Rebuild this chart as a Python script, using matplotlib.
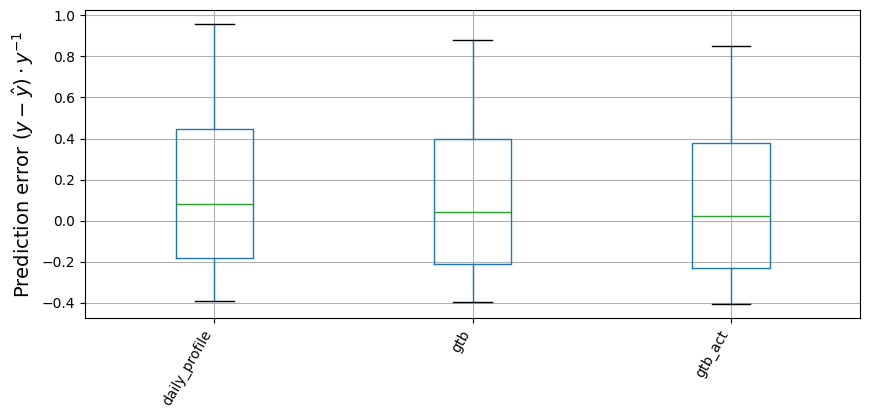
import matplotlib
matplotlib.use("Agg")
import matplotlib.pyplot as plt

models = ["daily_profile", "gtb", "gtb_act"]
whislo = [-0.39, -0.395, -0.405]
q1 = [-0.18, -0.21, -0.229]
med = [0.083, 0.044, 0.024]
q3 = [0.444, 0.40, 0.38]
whishi = [0.958, 0.882, 0.852]

stats = []
for i in range(len(models)):
    stats.append({"label": models[i], "whislo": whislo[i], "q1": q1[i],
                  "med": med[i], "q3": q3[i], "whishi": whishi[i], "fliers": []})

fig, ax = plt.subplots(figsize=(8.69, 4.18), dpi=100)
ax.bxp(stats, showfliers=False,
       boxprops=dict(color="C0"), whiskerprops=dict(color="C0"),
       medianprops=dict(color="C2"), capprops=dict(color="black"))
ax.grid(True)
ax.set_axisbelow(True)
plt.setp(ax.get_xticklabels(), rotation=60, ha="right")
ax.set_ylabel(r"Prediction error $(y - \hat{y}) \cdot y^{-1}$", fontsize=14)
fig.subplots_adjust(left=0.098, right=0.99, top=0.976, bottom=0.24)
fig.savefig("out.png")
